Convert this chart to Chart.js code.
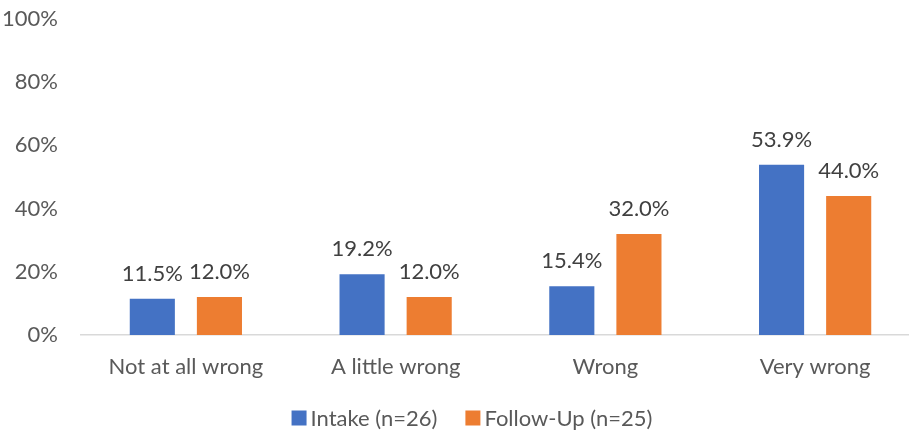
<!DOCTYPE html>
<html>
<head>
<meta charset="utf-8">
<script src="https://cdn.jsdelivr.net/npm/chart.js@4/dist/chart.umd.min.js"></script>
<style>
  html, body { margin: 0; padding: 0; background: #fff; overflow: hidden; }
  #wrap { position: relative; width: 944px; height: 436px; }
</style>
</head>
<body>
<div id="wrap"><canvas id="chart"></canvas></div>
<script>
const categories = ['Not at all wrong', 'A little wrong', 'Wrong', 'Very wrong'];
const intake = [11.5, 19.2, 15.4, 53.9];
const followUp = [12.0, 12.0, 32.0, 44.0];
const seriesNames = ['Intake (n=26)', 'Follow-Up (n=25)'];
const seriesColors = ['#4472C4', '#ED7D31'];
const yTicks = [0, 20, 40, 60, 80, 100];

const FONT = 'Lato, "Open Sans", sans-serif';
const FONT_SIZE = 22;
const AXIS_TEXT = '#595959';
const LABEL_TEXT = '#404040';

// Writes each bar's value (one decimal) just above the bar
const valueLabels = {
  id: 'valueLabels',
  afterDatasetsDraw(chart) {
    const ctx = chart.ctx;
    ctx.save();
    ctx.font = FONT_SIZE + 'px ' + FONT;
    ctx.fillStyle = LABEL_TEXT;
    ctx.textAlign = 'center';
    ctx.textBaseline = 'alphabetic';
    chart.data.datasets.forEach((ds, i) => {
      chart.getDatasetMeta(i).data.forEach((bar, j) => {
        ctx.fillText(ds.data[j].toFixed(1) + '%', bar.x, bar.y - 18);
      });
    });
    ctx.restore();
  }
};

// Legend row under the axis: square swatch followed by the series name
const bottomLegend = {
  id: 'bottomLegend',
  afterDraw(chart) {
    const ctx = chart.ctx;
    const box = 15, boxGap = 4, itemGap = 28, centerX = 472, centerY = 418;
    ctx.save();
    ctx.font = FONT_SIZE + 'px ' + FONT;
    ctx.textBaseline = 'middle';
    ctx.textAlign = 'left';
    const widths = seriesNames.map(n => ctx.measureText(n).width);
    const total = widths.reduce((a, w) => a + box + boxGap + w, 0) + itemGap * (seriesNames.length - 1);
    let x = centerX - total / 2;
    seriesNames.forEach((name, i) => {
      ctx.fillStyle = seriesColors[i];
      ctx.fillRect(x, centerY - box / 2, box, box);
      x += box + boxGap;
      ctx.fillStyle = AXIS_TEXT;
      ctx.fillText(name, x, centerY + 1);
      x += widths[i] + itemGap;
    });
    ctx.restore();
  }
};

new Chart(document.getElementById('chart'), {
  type: 'bar',
  data: {
    labels: categories,
    datasets: [
      { label: seriesNames[0], data: intake, backgroundColor: seriesColors[0] },
      { label: seriesNames[1], data: followUp, backgroundColor: seriesColors[1] }
    ]
  },
  options: {
    responsive: true,
    maintainAspectRatio: false,
    animation: false,
    layout: { padding: { top: 19, right: 24, left: 0, bottom: 0 } },
    datasets: { bar: { categoryPercentage: 0.64, barPercentage: 0.672 } },
    scales: {
      x: {
        afterFit(scale) { scale.height = 101; },
        grid: { display: false, drawTicks: false },
        border: { display: true, color: '#D9D9D9', width: 1.5 },
        ticks: { color: AXIS_TEXT, font: { family: FONT, size: FONT_SIZE }, padding: 19 }
      },
      y: {
        min: 0,
        max: 100,
        afterBuildTicks(scale) { scale.ticks = yTicks.map(v => ({ value: v })); },
        afterFit(scale) {
          scale.width = 81;
          scale.paddingTop = 0;
          scale.paddingBottom = 0;
        },
        grid: { display: false, drawTicks: false },
        border: { display: false },
        ticks: {
          color: AXIS_TEXT,
          font: { family: FONT, size: FONT_SIZE },
          padding: 23,
          callback: v => v + '%'
        }
      }
    },
    plugins: {
      legend: { display: false },
      tooltip: { enabled: false }
    }
  },
  plugins: [valueLabels, bottomLegend]
});
</script>
</body>
</html>
